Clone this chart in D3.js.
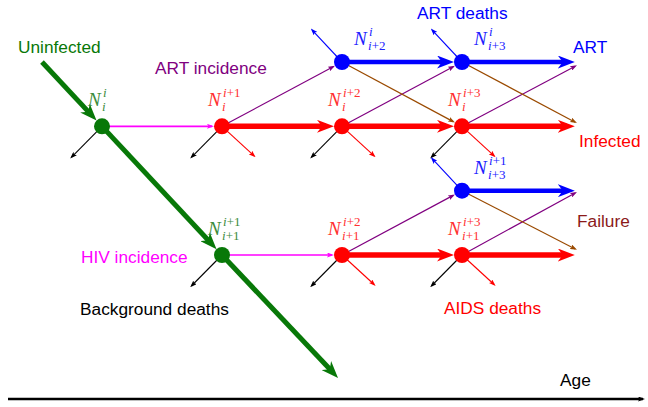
<!DOCTYPE html>
<html><head><meta charset="utf-8">
<script src="https://cdn.jsdelivr.net/npm/d3@7"></script>
<style>body{margin:0;background:#fff}svg{display:block}
.m{font-family:"Liberation Serif","Times New Roman",serif;font-style:italic}
.m .u{font-style:normal}</style>
</head><body>
<svg id="c" width="648" height="407"></svg>
<script>
// ---- data (grid units: col = age step, row = state band) ----
const nodes = [
  {id:"U0", col:0, row:1, state:"uninf", sup:"i",   sub:"i"},
  {id:"U1", col:1, row:3, state:"uninf", sup:"i+1", sub:"i+1"},
  {id:"I0", col:1, row:1, state:"inf",   sup:"i+1", sub:"i"},
  {id:"I1", col:2, row:1, state:"inf",   sup:"i+2", sub:"i"},
  {id:"I2", col:3, row:1, state:"inf",   sup:"i+3", sub:"i"},
  {id:"A0", col:2, row:0, state:"art",   sup:"i",   sub:"i+2"},
  {id:"A1", col:3, row:0, state:"art",   sup:"i",   sub:"i+3"},
  {id:"J0", col:2, row:3, state:"inf",   sup:"i+2", sub:"i+1"},
  {id:"J1", col:3, row:3, state:"inf",   sup:"i+3", sub:"i+1"},
  {id:"B0", col:3, row:2, state:"art",   sup:"i+1", sub:"i+3"}
];
const uninfectedPath = [[-0.5,0],"U0","U1",[1.967,4.91]];
const infectedSteps = [["I0","I1"],["I1","I2"],["I2",[3.94,1]],["J0","J1"],["J1",[3.94,3]]];
const artSteps = [["A0","A1"],["A1",[3.94,0]],["B0",[3.94,2]]];
const hivIncidence = [["U0","I0"],["U1","J0"]];
const artIncidence = [["I0","A0"],["I1","A1"],["I2",[3.958,0.05]],["J0","B0"],["J1",[3.958,2.02]]];
const failureFlows = [["A0","I2"],["A1",[3.958,0.95]],["B0",[3.958,2.92]]];
const backgroundDeaths = ["U0","I0","I1","I2","U1","J0","J1"];
const aidsDeaths = ["I0","I1","I2","J0","J1"];
const artDeaths = ["A0","A1","B0"];
const deathDir = {background:[-0.265,0.5], aids:[0.28,0.48], art:[-0.26,-0.52]};
const labels = [
  {text:"Uninfected", kind:"uninf"},
  {text:"ART incidence", kind:"artinc"},
  {text:"ART deaths", kind:"art"},
  {text:"ART", kind:"art"},
  {text:"Infected", kind:"inf"},
  {text:"Failure", kind:"fail"},
  {text:"HIV incidence", kind:"hivinc"},
  {text:"Background deaths", kind:"bg"},
  {text:"AIDS deaths", kind:"inf"},
  {text:"Age", kind:"bg"}
];

// ---- styles ----
const C = {uninf:"#087808", inf:"#ff0000", art:"#0000ff", hivinc:"#ff00ff",
           artinc:"#800080", fail:"#8b1a1a", brown:"#9a4a00", bg:"#000000"};
const labelColor = {uninf:"#3c8c3c", inf:"#ff3030", art:"#2020ff"};

const svg = d3.select("#c");
const x = d3.scaleLinear().domain([0,3]).range([102,462]);
const y = d3.scaleLinear().domain([0,3]).range([62,255]);
const R = 8;
const byId = Object.fromEntries(nodes.map(n=>[n.id,n]));
const pt = p => typeof p === "string" ? [x(byId[p].col), y(byId[p].row)] : [x(p[0]), y(p[1])];
const isNode = p => typeof p === "string";

const defs = svg.append("defs");
function marker(id, color, len, w, notch){
  defs.append("marker").attr("id",id).attr("markerUnits","userSpaceOnUse")
    .attr("viewBox",`0 0 ${len} ${w}`).attr("markerWidth",len).attr("markerHeight",w)
    .attr("refX",len).attr("refY",w/2).attr("orient","auto")
    .append("path").attr("d",`M0,0L${len},${w/2}L0,${w}L${notch},${w/2}Z`).attr("fill",color);
}
const mk = {};
function getMarker(color, big){
  const key = color+(big?"B":"s");
  if(!mk[key]){ const id="m"+Object.keys(mk).length; mk[key]=id;
    if(big) marker(id,color,17,13,5); else marker(id,color,7,5,1.5); }
  return mk[key];
}
function arrow(a, b, color, width, big, trimStart, trimEnd){
  let [x1,y1]=a, [x2,y2]=b;
  const dx=x2-x1, dy=y2-y1, L=Math.hypot(dx,dy), ux=dx/L, uy=dy/L;
  if(trimStart){x1+=ux*trimStart; y1+=uy*trimStart;}
  if(trimEnd){x2-=ux*trimEnd; y2-=uy*trimEnd;}
  const back = big ? 8 : 2;
  const id = getMarker(color,big);
  svg.append("line").attr("x1",x1).attr("y1",y1).attr("x2",x2-ux*back).attr("y2",y2-uy*back)
    .attr("stroke",color).attr("stroke-width",width);
  svg.append("path").attr("d",`M${x2-ux*back-ux*0.01},${y2-uy*back-uy*0.01}L${x2},${y2}`)
    .attr("stroke","none").attr("fill","none").attr("marker-end",`url(#${id})`);
}
const link = (pair, color, width, big) => arrow(pt(pair[0]), pt(pair[1]), color, width, big, 0, isNode(pair[1])?R:0);

// Age axis
const age = d3.scaleLinear().domain([0,1]).range([8,645]);
arrow([age(0),399],[age(1),399],C.bg,2.5,false,0,0);

// thin flows
hivIncidence.forEach(p=>link(p,C.hivinc,1.6,false));
artIncidence.forEach(p=>link(p,C.artinc,1.2,false));
failureFlows.forEach(p=>link(p,C.brown,1.2,false));
const death = (id, dir, color) => { const [a,b]=pt(id); const n=byId[id];
  arrow([a,b],[x(n.col+dir[0]),y(n.row+dir[1])],color,1.1,false,0,0); };
backgroundDeaths.forEach(id=>death(id,deathDir.background,C.bg));
aidsDeaths.forEach(id=>death(id,deathDir.aids,C.inf));
artDeaths.forEach(id=>death(id,deathDir.art,C.art));

// thick flows
infectedSteps.forEach(p=>link(p,C.inf,5.5,true));
artSteps.forEach(p=>link(p,C.art,4.5,true));
for(let k=0;k<uninfectedPath.length-1;k++){
  const a=uninfectedPath[k], b=uninfectedPath[k+1];
  arrow(pt(a),pt(b),C.uninf,5,true,0,isNode(b)?R:0);
}

// nodes
svg.selectAll("circle.n").data(nodes).join("circle").attr("class","n")
  .attr("cx",d=>x(d.col)).attr("cy",d=>y(d.row)).attr("r",R)
  .attr("fill",d=>C[d.state]);

// node labels N_sub^sup
function idx(t, sel){
  // italic letters, upright digits and signs
  t.split(/(\d|\+)/).filter(s=>s).forEach(s=>{
    sel.append("tspan").attr("class",/[\d+]/.test(s)?"u":null).text(s);
  });
}
nodes.forEach(d=>{
  const right = d.state==="art";
  const lx = x(d.col) + (right?12:-14);
  const ly = y(d.row) - (right?17:20);
  const g = svg.append("g").attr("class","m").attr("fill",labelColor[d.state]);
  g.append("text").attr("x",lx).attr("y",ly).attr("font-size",19).text("N");
  idx(d.sup, g.append("text").attr("x",lx+15).attr("y",ly-9).attr("font-size",13));
  idx(d.sub, g.append("text").attr("x",lx+14).attr("y",ly+5).attr("font-size",13));
});

// text labels
const pos = {"Uninfected":[18,53],"ART incidence":[155,74],"ART deaths":[417,19],"ART":[573,53],
  "Infected":[579,147],"Failure":[577,227],"HIV incidence":[81,263],"Background deaths":[80,315],
  "AIDS deaths":[444,314],"Age":[560,386]};
svg.selectAll("text.lab").data(labels).join("text").attr("class","lab")
  .attr("x",d=>pos[d.text][0]).attr("y",d=>pos[d.text][1])
  .attr("font-family","'Liberation Sans',Arial,sans-serif").attr("font-size",17.3)
  .attr("fill",d=>C[d.kind]).text(d=>d.text);
</script>
</body></html>
